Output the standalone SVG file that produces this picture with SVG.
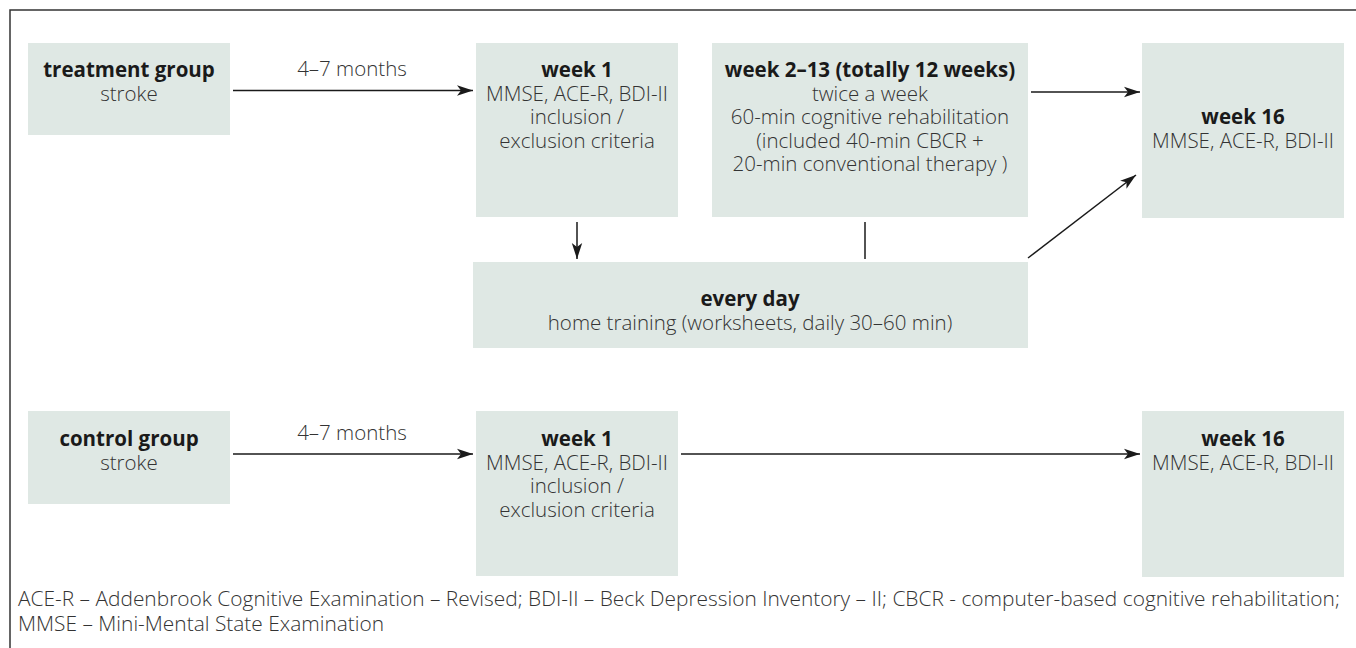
<svg xmlns="http://www.w3.org/2000/svg" width="1356" height="648" viewBox="0 0 1356 648">
<style>
.box{fill:#dfe8e4}
.t{font-family:"Open Sans","Noto Sans",sans-serif;font-size:20.5px;font-weight:300;fill:#333;text-anchor:middle}
.b{font-weight:bold;fill:#1a1a1a}
.ln{stroke:#1a1a1a;stroke-width:1.5;fill:none}
.foot{font-family:"Open Sans","Noto Sans",sans-serif;font-size:20.9px;font-weight:300;fill:#333}
</style>
<defs>
<marker id="ah" markerWidth="17" markerHeight="12" refX="16" refY="6" orient="auto" markerUnits="userSpaceOnUse">
<path d="M0,0.8 L16,6 L0,11.2 L4,6 Z" fill="#1a1a1a"/>
</marker>
</defs>
<rect width="1356" height="648" fill="#fff"/>
<path d="M10,648 V10 H1356" fill="none" stroke="#333" stroke-width="1.5"/>

<g id="connectors">
<path class="ln" d="M233,90.5 H473" marker-end="url(#ah)"/>
<text class="t" x="352" y="76">4–7 months</text>
<path class="ln" d="M1031,92 H1140" marker-end="url(#ah)"/>
<path class="ln" d="M577,222 V259" marker-end="url(#ah)"/>
<path class="ln" d="M865,222 V259"/>
<path class="ln" d="M1028,258 L1136,175" marker-end="url(#ah)"/>
<path class="ln" d="M233,454 H473" marker-end="url(#ah)"/>
<text class="t" x="352" y="440">4–7 months</text>
<path class="ln" d="M681,454 H1140" marker-end="url(#ah)"/>
</g>

<g id="treatment">
<rect class="box" x="28" y="43" width="202" height="92"/>
<text class="t" x="129" y="77"><tspan class="b">treatment group</tspan><tspan x="129" dy="23.5">stroke</tspan></text>
</g>
<g id="week1-t">
<rect class="box" x="476" y="43" width="202" height="174"/>
<text class="t" x="577" y="77"><tspan class="b">week 1</tspan><tspan x="577" dy="23.5">MMSE, ACE-R, BDI-II</tspan><tspan x="577" dy="23.5">inclusion /</tspan><tspan x="577" dy="23.5">exclusion criteria</tspan></text>
</g>
<g id="week2-13">
<rect class="box" x="712" y="43" width="316" height="174"/>
<text class="t" x="870" y="77"><tspan class="b">week 2–13 (totally 12 weeks)</tspan><tspan x="870" dy="23.5">twice a week</tspan><tspan x="870" dy="23.5">60-min cognitive rehabilitation</tspan><tspan x="870" dy="23.5">(included 40-min CBCR +</tspan><tspan x="870" dy="23.5">20-min conventional therapy )</tspan></text>
</g>
<g id="week16-t">
<rect class="box" x="1142" y="43" width="202" height="175"/>
<text class="t" x="1243" y="124"><tspan class="b">week 16</tspan><tspan x="1243" dy="23.5">MMSE, ACE-R, BDI-II</tspan></text>
</g>
<g id="everyday">
<rect class="box" x="473" y="262" width="555" height="86"/>
<text class="t" x="750" y="306"><tspan class="b">every day</tspan><tspan x="750" dy="23.5">home training (worksheets, daily 30–60 min)</tspan></text>
</g>
<g id="control">
<rect class="box" x="28" y="411" width="202" height="93"/>
<text class="t" x="129" y="446"><tspan class="b">control group</tspan><tspan x="129" dy="23.5">stroke</tspan></text>
</g>
<g id="week1-c">
<rect class="box" x="476" y="411" width="202" height="165"/>
<text class="t" x="577" y="446"><tspan class="b">week 1</tspan><tspan x="577" dy="23.5">MMSE, ACE-R, BDI-II</tspan><tspan x="577" dy="23.5">inclusion /</tspan><tspan x="577" dy="23.5">exclusion criteria</tspan></text>
</g>
<g id="week16-c">
<rect class="box" x="1142" y="411" width="202" height="166"/>
<text class="t" x="1243" y="446"><tspan class="b">week 16</tspan><tspan x="1243" dy="23.5">MMSE, ACE-R, BDI-II</tspan></text>
</g>
<g id="footnote">
<text class="foot" x="18" y="606">ACE-R – Addenbrook Cognitive Examination – Revised; BDI-II – Beck Depression Inventory – II; CBCR - computer-based cognitive rehabilitation;<tspan x="18" dy="25">MMSE – Mini-Mental State Examination</tspan></text>
</g>
</svg>
